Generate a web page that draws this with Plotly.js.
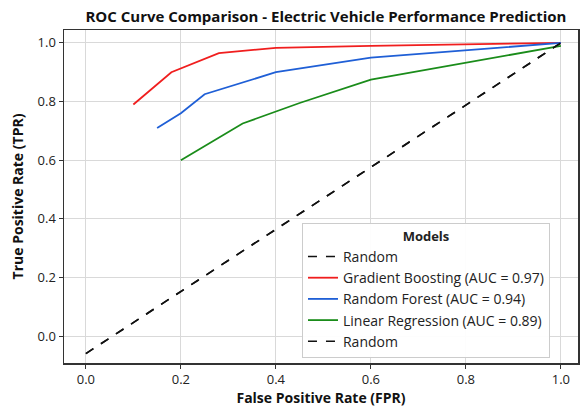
<!DOCTYPE html>
<html>
<head>
<meta charset="utf-8">
<script src="https://cdn.plot.ly/plotly-3.0.1.min.js"></script>
<style>html,body{margin:0;padding:0;background:#fff;}#chart{width:581px;height:410px;}</style>
</head>
<body>
<div id="chart"></div>
<script>
const randomX = [0.0, 1.0];
const randomY = [-0.06, 1.0];
const gbX = [0.10, 0.18, 0.28, 0.40, 0.60, 1.0];
const gbY = [0.79, 0.90, 0.965, 0.983, 0.99, 1.0];
const rfX = [0.15, 0.20, 0.25, 0.40, 0.60, 1.0];
const rfY = [0.71, 0.76, 0.825, 0.90, 0.95, 1.0];
const lrX = [0.20, 0.33, 0.45, 0.60, 1.0];
const lrY = [0.60, 0.725, 0.795, 0.875, 0.99];
const names = ["Random", "Gradient Boosting (AUC = 0.97)", "Random Forest (AUC = 0.94)", "Linear Regression (AUC = 0.89)", "Random"];
const tickVals = [0, 0.2, 0.4, 0.6, 0.8, 1.0];
const tickText = ["0.0", "0.2", "0.4", "0.6", "0.8", "1.0"];

const font = "Open Sans, Noto Sans, sans-serif";
const traces = [
  {x: randomX, y: randomY, mode: "lines", name: names[0], line: {color: "#111", width: 1.6, dash: "dash"}},
  {x: gbX, y: gbY, mode: "lines", name: names[1], line: {color: "#f01e1e", width: 1.8}},
  {x: rfX, y: rfY, mode: "lines", name: names[2], line: {color: "#1f5fd6", width: 1.8}},
  {x: lrX, y: lrY, mode: "lines", name: names[3], line: {color: "#1a8c1a", width: 1.8}},
  {x: randomX, y: randomY, mode: "lines", name: names[4], line: {color: "#111", width: 1.6, dash: "dash"}}
];
const layout = {
  width: 581, height: 410,
  margin: {l: 64, r: 3, t: 30, b: 47},
  paper_bgcolor: "#fff", plot_bgcolor: "#fff",
  font: {family: font, size: 13, color: "#222"},
  title: {text: "<b>ROC Curve Comparison - Electric Vehicle Performance Prediction</b>", font: {size: 15, color: "#111"}, x: 0.561, xanchor: "center", y: 0.958, yanchor: "middle"},
  xaxis: {
    range: [-0.046, 1.036], tickvals: tickVals, ticktext: tickText,
    showgrid: true, gridcolor: "#d9d9d9", gridwidth: 1,
    zeroline: false, showline: true, linecolor: "#333", linewidth: 1.5, mirror: true,
    ticks: "outside", ticklen: 4, tickcolor: "#333",
    tickfont: {size: 13},
    title: {text: "<b>False Positive Rate (FPR)</b>", font: {size: 14, color: "#111"}, standoff: 6}
  },
  yaxis: {
    range: [-0.092, 1.044], tickvals: tickVals, ticktext: tickText,
    showgrid: true, gridcolor: "#d9d9d9", gridwidth: 1,
    zeroline: false, showline: true, linecolor: "#333", linewidth: 1.5, mirror: true,
    ticks: "outside", ticklen: 4, tickcolor: "#333",
    tickfont: {size: 13},
    title: {text: "<b>True Positive Rate (TPR)</b>", font: {size: 14, color: "#111"}, standoff: 10}
  },
  legend: {
    x: 0.463, y: 0.015, xanchor: "left", yanchor: "bottom",
    bgcolor: "rgba(255,255,255,0.95)", bordercolor: "#ccc", borderwidth: 1,
    font: {size: 14, color: "#222"},
    title: {text: "<b>Models</b>", side: "top center", font: {size: 13}},
    tracegroupgap: 0
  },
  showlegend: true
};
Plotly.newPlot("chart", traces, layout, {displayModeBar: false, staticPlot: true});
</script>
</body>
</html>
